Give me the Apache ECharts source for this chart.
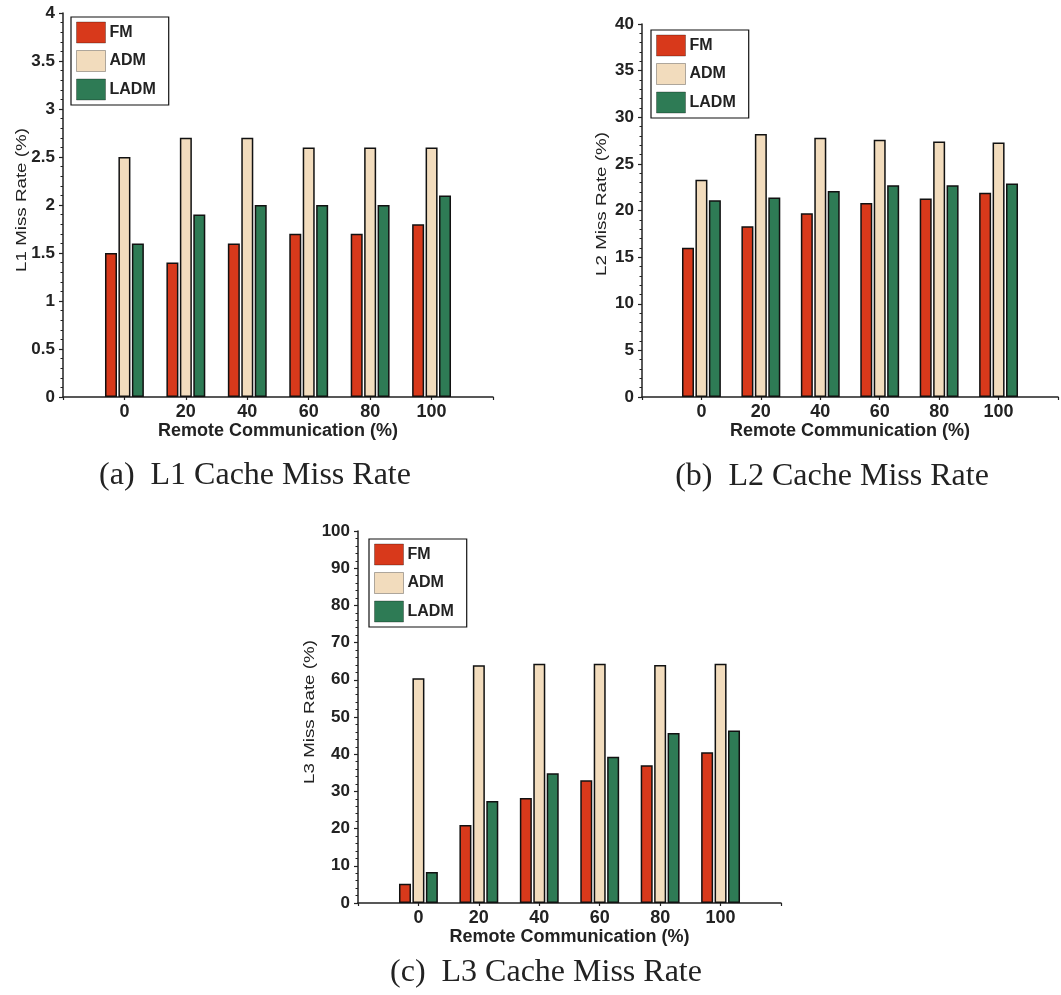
<!DOCTYPE html>
<html>
<head>
<meta charset="utf-8">
<title>Cache Miss Rate</title>
<script src="https://cdn.jsdelivr.net/npm/echarts@6/dist/echarts.min.js"></script>
<style>
  html, body { margin: 0; padding: 0; background: #fff; }
  #chart { width: 1061px; height: 995px; }
</style>
</head>
<body>
<div id="chart"></div>
<script>
// Remote communication levels (%) shared by all three panels
const remoteComm = [0, 20, 40, 60, 80, 100];
const seriesNames = ['FM', 'ADM', 'LADM'];

// L1 cache miss rate (%)
const l1FM   = [1.5, 1.4, 1.6, 1.7, 1.7, 1.8];
const l1ADM  = [2.5, 2.7, 2.7, 2.6, 2.6, 2.6];
const l1LADM = [1.6, 1.9, 2.0, 2.0, 2.0, 2.1];

// L2 cache miss rate (%)
const l2FM   = [16.0, 18.3, 19.7, 20.8, 21.3, 21.9];
const l2ADM  = [23.3, 28.2, 27.8, 27.6, 27.4, 27.3];
const l2LADM = [21.1, 21.4, 22.1, 22.7, 22.7, 22.9];

// L3 cache miss rate (%)
const l3FM   = [5.2, 21.0, 28.2, 33.0, 37.0, 40.5];
const l3ADM  = [60.4, 63.9, 64.3, 64.3, 64.0, 64.3];
const l3LADM = [8.3, 27.4, 34.9, 39.3, 45.7, 46.4];

// Y axis ranges per panel
const yMax = [4, 40, 100];
const yStep = [0.5, 5, 10];
const yTitles = ['L1 Miss Rate (%)', 'L2 Miss Rate (%)', 'L3 Miss Rate (%)'];
const captions = ['(a)\u2002L1 Cache Miss Rate', '(b)\u2002L2 Cache Miss Rate', '(c)\u2002L3 Cache Miss Rate'];

const colors = ['#d8391b', '#f2dcbd', '#2e7b55'];
const panelValues = [
  [l1FM, l1ADM, l1LADM],
  [l2FM, l2ADM, l2LADM],
  [l3FM, l3ADM, l3LADM]
];

const grids = [
  { left: 63,  top: 13,  width: 430, height: 384 },
  { left: 642, top: 24,  width: 430, height: 373 },
  { left: 358, top: 531, width: 423, height: 372 }
];
const legendPos = [
  { left: 71,  top: 17 },
  { left: 651, top: 30 },
  { left: 369, top: 539 }
];
const yTitlePos = [[22, 200], [602, 204], [310, 712]];
const captionPos = [[255, 476], [832, 477], [546, 973]];

const tickFont = { fontFamily: 'Liberation Sans, Arial, sans-serif', fontWeight: 'bold', fontSize: 17, color: '#222' };
const axisLineStyle = { color: '#222', width: 1.5 };

const xAxes = grids.map((g, i) => ({
  type: 'value',
  gridIndex: i,
  min: -20, max: 120, interval: 20,
  splitLine: { show: false },
  axisLine: { show: true, onZero: false, lineStyle: axisLineStyle },
  axisTick: { show: true, length: 3, lineStyle: { color: '#222', width: 1.2 } },
  axisLabel: Object.assign({}, tickFont, { fontSize: 18, margin: 6, formatter: v => (v < 0 || v > 100) ? '' : String(v) }),
  name: 'Remote Communication (%)',
  nameLocation: 'middle',
  nameGap: 23,
  nameTextStyle: { fontFamily: 'Liberation Sans, Arial, sans-serif', fontWeight: 'bold', fontSize: 18, color: '#222', verticalAlign: 'top', lineHeight: 18 }
}));

const yAxes = grids.map((g, i) => ({
  type: 'value',
  gridIndex: i,
  min: 0, max: yMax[i], interval: yStep[i],
  splitLine: { show: false },
  axisLine: { show: true, onZero: false, lineStyle: axisLineStyle },
  axisTick: { show: true, length: 4, lineStyle: { color: '#222', width: 1.2 } },
  minorTick: { show: true, splitNumber: 5, length: 2.5, lineStyle: { color: '#222', width: 1 } },
  axisLabel: Object.assign({ margin: 8 }, tickFont)
}));

const series = [];
panelValues.forEach((vals, p) => {
  vals.forEach((arr, s) => {
    series.push({
      type: 'bar',
      name: seriesNames[s],
      xAxisIndex: p,
      yAxisIndex: p,
      barWidth: 12,
      barGap: '12%',
      itemStyle: { color: colors[s], borderColor: '#111', borderWidth: 1.5 },
      data: remoteComm.map((x, k) => [x, arr[k]])
    });
  });
});

const legends = legendPos.map(pos => ({
  left: pos.left, top: pos.top,
  orient: 'vertical',
  data: seriesNames,
  icon: 'rect',
  itemWidth: 29, itemHeight: 21, itemGap: 6.5,
  padding: [4.5, 13, 4.5, 5],
  borderColor: '#111', borderWidth: 1.2,
  selectedMode: false,
  itemStyle: { borderColor: 'rgba(0,0,0,0.3)', borderWidth: 1 },
  textStyle: { fontFamily: 'Liberation Sans, Arial, sans-serif', fontWeight: 'bold', fontSize: 16, color: '#222', padding: [0, 0, 0, -1] }
}));

const graphics = [];
yTitles.forEach((t, i) => {
  graphics.push({
    type: 'text',
    x: yTitlePos[i][0], y: yTitlePos[i][1],
    rotation: Math.PI / 2,
    scaleX: 1.25,
    style: {
      text: t, align: 'center', verticalAlign: 'middle',
      font: 'normal 15px "Liberation Sans", Arial, sans-serif', fill: '#222'
    }
  });
});
captions.forEach((t, i) => {
  graphics.push({
    type: 'text',
    x: captionPos[i][0], y: captionPos[i][1],
    style: {
      text: t, align: 'center', verticalAlign: 'middle',
      font: 'normal 32px "Liberation Serif", "Times New Roman", serif', fill: '#222'
    }
  });
});

const chart = echarts.init(document.getElementById('chart'), null, { renderer: 'canvas' });
chart.setOption({
  backgroundColor: '#fff',
  animation: false,
  grid: grids,
  xAxis: xAxes,
  yAxis: yAxes,
  legend: legends,
  series: series,
  graphic: graphics
});
</script>
</body>
</html>
